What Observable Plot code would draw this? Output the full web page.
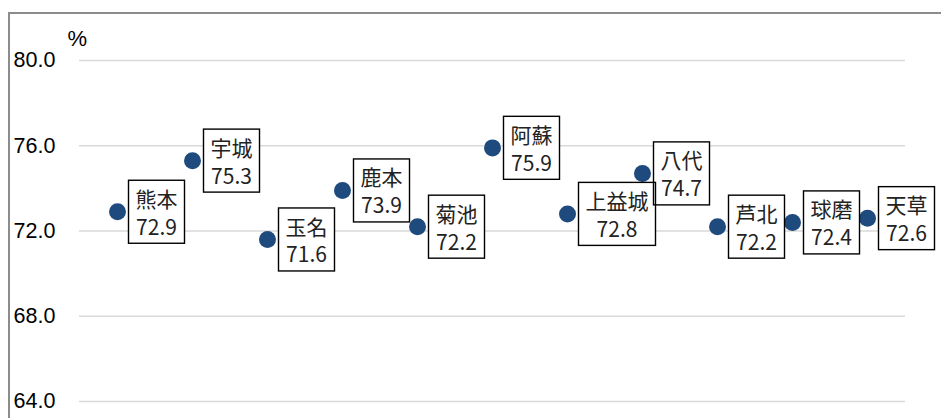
<!DOCTYPE html>
<html><head><meta charset="utf-8">
<script src="https://cdn.jsdelivr.net/npm/d3@7"></script>
<script src="https://cdn.jsdelivr.net/npm/@observablehq/plot@0.6"></script>
<style>
html,body{margin:0;padding:0;background:#fff;overflow:hidden}
#wrap{position:relative;width:941px;height:418px;overflow:hidden}
#frame{position:absolute;left:8px;top:12px;width:960px;height:440px;border:2px solid #8c8c8c;box-sizing:border-box;pointer-events:none}
</style></head><body><div id="wrap"><div id="chart"></div><div id="frame"></div></div>
<script>
const areas = ["熊本","宇城","玉名","鹿本","菊池","阿蘇","上益城","八代","芦北","球磨","天草"];
const values = [72.9,75.3,71.6,73.9,72.2,75.9,72.8,74.7,72.2,72.4,72.6];
const yTicks = [64,68,72,76,80];
const unitLabel = "%";
const data = areas.map((a,i)=>({area:a,value:values[i]}));
const plot = Plot.plot({
  width:941,height:418,marginLeft:79,marginRight:36,marginTop:60,marginBottom:17,
  style:{fontFamily:"'Liberation Sans',Arial,sans-serif",background:"#fff"},
  x:{type:"point",domain:areas,padding:0.5,axis:null},
  y:{domain:[64,80],axis:null},
  marks:[
    Plot.gridY(yTicks,{stroke:"#d9d9d9",strokeOpacity:1,strokeWidth:1.5}),
    Plot.text(yTicks,{y:d=>d,text:d=>d.toFixed(1),frameAnchor:"left",dx:-66,textAnchor:"start",fontSize:21.5,fill:"#000"}),
    Plot.text([unitLabel],{frameAnchor:"top-left",dx:-12,dy:-22,textAnchor:"start",lineAnchor:"middle",text:d=>d,fontSize:22,fill:"#000"}),
    Plot.dot(data,{x:"area",y:"value",r:8.5,fill:"#1f4a7e",stroke:"none"}),
    Plot.text(data,{x:"area",y:"value",text:d=>`${d.area}\n${d.value.toFixed(1)}`,textAnchor:"middle",lineAnchor:"middle",lineHeight:1.33,fontSize:21,fontFamily:"'Noto Sans CJK JP',sans-serif",fill:"#222"})
  ]
});
document.getElementById("chart").appendChild(plot);
const groups = plot.querySelectorAll('g[aria-label="text"]');
const g = groups[groups.length - 1];
const texts = Array.from(g.querySelectorAll("text"));
const first = texts[0];
const ns = "http://www.w3.org/2000/svg";
const gap = 11, padX = 7;
const boxes = texts.map(t => {
  const bb = t.getBBox();
  const shift = gap + padX + bb.width / 2;
  const tr = (t.getAttribute("transform") || "") + ` translate(${shift},0)`;
  t.setAttribute("transform", tr);
  return {x: bb.x - padX, y: bb.y + bb.height/2 - 31.5, w: bb.width + 2*padX, h: 63, tr};
});
for (const mode of ["fill","stroke"]) {
  for (const b of boxes) {
    const r = document.createElementNS(ns, "rect");
    r.setAttribute("x", b.x); r.setAttribute("y", b.y);
    r.setAttribute("width", b.w); r.setAttribute("height", b.h);
    r.setAttribute("transform", b.tr);
    if (mode === "fill") { r.setAttribute("fill", "#fff"); r.setAttribute("stroke", "none"); }
    else { r.setAttribute("fill", "none"); r.setAttribute("stroke", "#000"); r.setAttribute("stroke-width", "1.4"); }
    g.insertBefore(r, first);
  }
}
</script>
</body></html>
